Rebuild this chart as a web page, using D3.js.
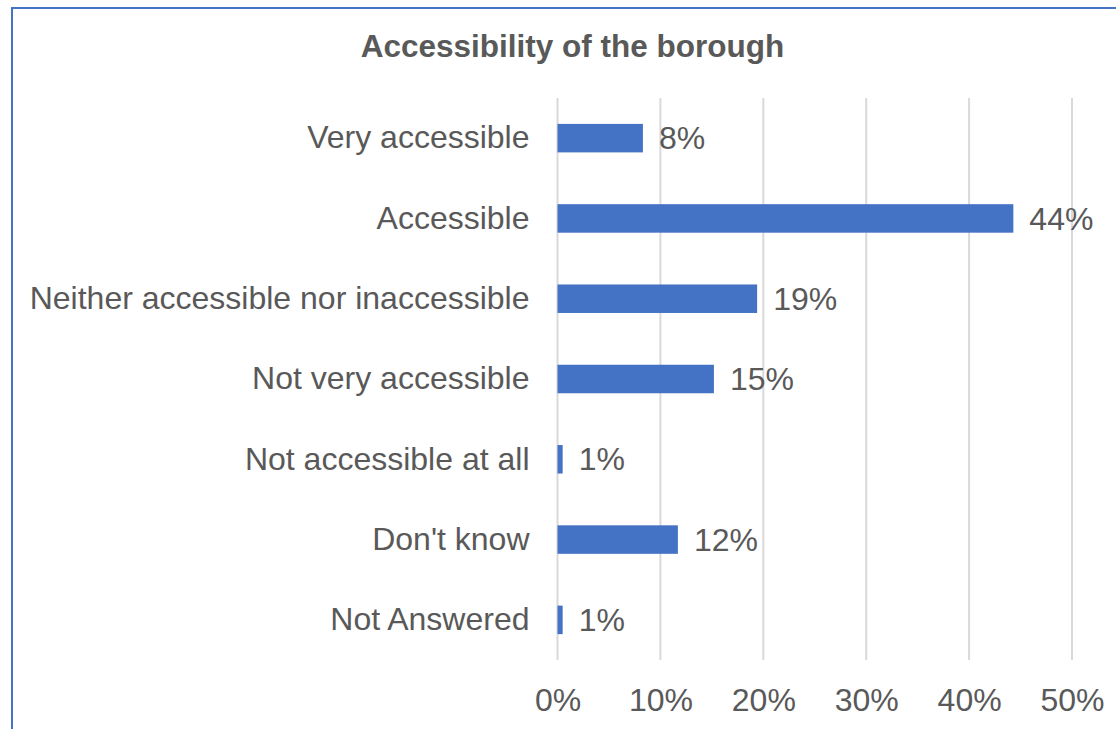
<!DOCTYPE html>
<html>
<head>
<meta charset="utf-8">
<script src="https://cdn.jsdelivr.net/npm/d3@7"></script>
<style>
  html, body { margin: 0; padding: 0; background: #ffffff; }
  svg { display: block; font-family: "Liberation Sans", Arial, sans-serif; }
</style>
</head>
<body>
<svg id="chart" width="1116" height="729"></svg>
<script>
// Survey responses: how accessible people find the borough (% of respondents)
const categories = [
  "Very accessible",
  "Accessible",
  "Neither accessible nor inaccessible",
  "Not very accessible",
  "Not accessible at all",
  "Don't know",
  "Not Answered"
];
const percentages = [8.3, 44.3, 19.4, 15.2, 0.5, 11.7, 0.5];
const xTickValues = [0, 10, 20, 30, 40, 50];
const chartTitle = "Accessibility of the borough";

const width = 1116, height = 729;
const margin = { top: 98, right: 44, bottom: 69, left: 557.5 };
const barColor = "#4472C4";
const textColor = "#595959";
const gridColor = "#d9d9d9";
const labelSize = 32;

const svg = d3.select("#chart");

// Chart frame (only its top and left edges fall inside the view)
svg.append("rect")
  .attr("x", 12).attr("y", 8)
  .attr("width", width + 20).attr("height", height + 20)
  .attr("fill", "#ffffff")
  .attr("stroke", barColor)
  .attr("stroke-width", 2);

const x = d3.scaleLinear()
  .domain([0, 50])
  .range([margin.left, width - margin.right]);

const y = d3.scaleBand()
  .domain(categories)
  .range([margin.top, height - margin.bottom])
  .paddingInner(0.645)
  .paddingOuter(0.3225);

// Title
svg.append("text")
  .attr("x", 572.5)
  .attr("y", 57)
  .attr("text-anchor", "middle")
  .attr("fill", textColor)
  .attr("font-size", 31.5)
  .attr("font-weight", "bold")
  .text(chartTitle);

// Vertical gridlines
svg.append("g")
  .selectAll("line")
  .data(xTickValues)
  .join("line")
  .attr("x1", d => x(d)).attr("x2", d => x(d))
  .attr("y1", margin.top).attr("y2", height - margin.bottom)
  .attr("stroke", gridColor)
  .attr("stroke-width", 2);

// X axis labels
const xAxis = svg.append("g")
  .attr("transform", `translate(0, ${height - margin.bottom})`)
  .call(d3.axisBottom(x)
    .tickValues(xTickValues)
    .tickFormat(d => d + "%")
    .tickSize(0)
    .tickPadding(28));
xAxis.select(".domain").remove();
xAxis.selectAll("text")
  .attr("fill", textColor)
  .attr("font-size", labelSize)
  .attr("font-family", "Liberation Sans, Arial, sans-serif");

// Category labels
const yAxis = svg.append("g")
  .attr("transform", `translate(${margin.left}, 0)`)
  .call(d3.axisLeft(y).tickSize(0).tickPadding(28));
yAxis.select(".domain").remove();
yAxis.selectAll("text")
  .attr("fill", textColor)
  .attr("font-size", labelSize)
  .attr("font-family", "Liberation Sans, Arial, sans-serif");

const rows = categories.map((c, i) => ({ category: c, value: percentages[i] }));

// Bars
svg.append("g")
  .selectAll("rect")
  .data(rows)
  .join("rect")
  .attr("x", x(0))
  .attr("y", d => y(d.category))
  .attr("width", d => x(d.value) - x(0))
  .attr("height", y.bandwidth())
  .attr("fill", barColor);

// Value labels
svg.append("g")
  .selectAll("text")
  .data(rows)
  .join("text")
  .attr("x", d => x(d.value) + 16)
  .attr("y", d => y(d.category) + y.bandwidth() / 2)
  .attr("dy", "0.35em")
  .attr("fill", textColor)
  .attr("font-size", labelSize)
  .text(d => Math.round(d.value) + "%");
</script>
</body>
</html>
